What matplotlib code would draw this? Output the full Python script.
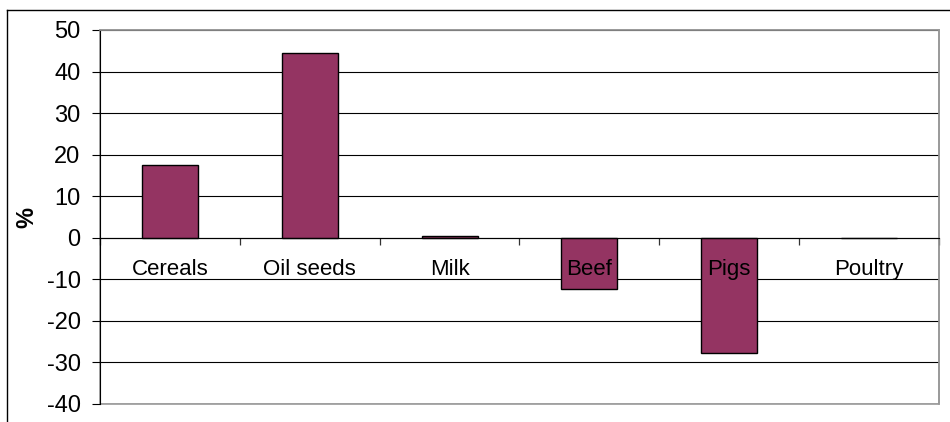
import matplotlib
matplotlib.use("Agg")
import matplotlib.pyplot as plt
from matplotlib.lines import Line2D
from matplotlib.patches import Rectangle
import numpy as np

categories = ["Cereals", "Oil seeds", "Milk", "Beef", "Pigs", "Poultry"]
values = [17.5, 44.5, 0.5, -12.3, -27.7, 0.0]
yticks = [50, 40, 30, 20, 10, 0, -10, -20, -30, -40]
ylabel = "%"

plt.rcParams['font.family'] = ['Liberation Sans', 'DejaVu Sans']

fig = plt.figure(figsize=(9.5, 4.22), dpi=100)
ax = fig.add_axes([100/950, 18/422, 839/950, 374/422])

x = np.arange(len(categories))
ax.bar(x, values, width=0.4, color="#943462", edgecolor="black", linewidth=1.0, zorder=2)

ax.set_xlim(-0.5, len(categories) - 0.5)
ax.set_ylim(min(yticks), max(yticks))
ax.set_yticks(yticks)
ax.set_yticklabels([str(v) for v in yticks])
ax.tick_params(axis='y', direction='out', length=6, width=0.8, color='black', pad=8, labelsize=17)

# grid
ax.set_axisbelow(True)
ax.yaxis.grid(True, color='black', linewidth=0.8)

# spines
for s in ['top', 'right']:
    ax.spines[s].set_color('#999999')
    ax.spines[s].set_linewidth(1.2)
ax.spines['left'].set_color('black')
ax.spines['left'].set_linewidth(0.8)
ax.spines['bottom'].set_position(('data', 0))
ax.spines['bottom'].set_color('black')
ax.spines['bottom'].set_linewidth(0.8)
ax.spines['bottom'].set_zorder(3)

# gray bottom border of plot area
ax.add_patch(Rectangle((0, 0), 1, 1, transform=ax.transAxes, fill=False,
                       edgecolor='#999999', linewidth=1.2, zorder=0.4, clip_on=False))

# x ticks at category boundaries
ax.set_xticks(np.arange(len(categories) + 1) - 0.5)
ax.set_xticklabels([])
ax.tick_params(axis='x', direction='out', length=5, width=0.9, color='#333333')

for i, c in enumerate(categories):
    ax.annotate(c, (x[i], 0), xytext=(0, -15), textcoords='offset points',
                ha='center', va='top', fontsize=16, zorder=5)

ax.set_ylabel(ylabel, fontsize=17, fontweight='bold')
ax.yaxis.set_label_coords(-0.074, 0.5)

# outer chart frame
fig.add_artist(Line2D([6.5/950, 6.5/950], [0, 1 - 9.5/422], transform=fig.transFigure,
                      color='black', linewidth=1.0))
fig.add_artist(Line2D([6.5/950, 1], [1 - 9.5/422, 1 - 9.5/422], transform=fig.transFigure,
                      color='black', linewidth=1.0))

fig.savefig("out.png", dpi=100)
